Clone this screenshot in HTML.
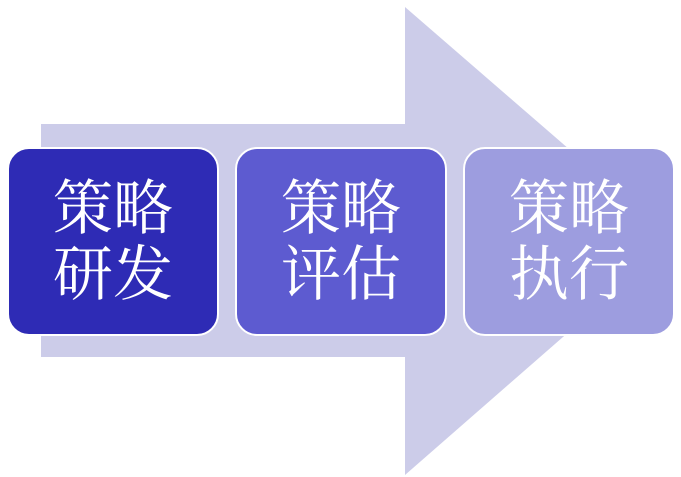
<!DOCTYPE html>
<html><head><meta charset="utf-8"><style>
body{margin:0;width:681px;height:477px;background:#fff;position:relative;overflow:hidden}
.b{position:absolute;top:147px;width:208px;height:185px;border:2px solid #fff;border-radius:22px;box-sizing:content-box;
color:#fff;font-family:"Liberation Serif","Noto Serif CJK SC",serif;font-size:60px;line-height:66px;
display:flex;align-items:center;justify-content:center;text-align:center}
</style></head><body>
<svg width="681" height="477" style="position:absolute;left:0;top:0">
<polygon points="41,124 405,124 405,7 674,240 405,475 405,357 41,357" fill="#cccce9"/>
</svg>
<div class="b" style="left:7px;background:#2e2bb5">策略<br>研发</div>
<div class="b" style="left:235px;background:#5d5bd0">策略<br>评估</div>
<div class="b" style="left:463px;background:#9d9ddf">策略<br>执行</div>
</body></html>
